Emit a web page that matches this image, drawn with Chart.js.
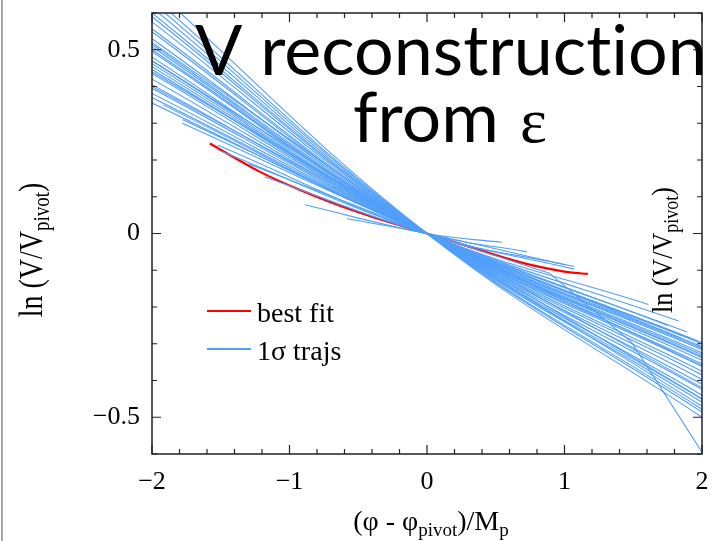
<!DOCTYPE html>
<html>
<head>
<meta charset="utf-8">
<script src="https://cdn.jsdelivr.net/npm/chart.js@4"></script>
<style>
  html, body { margin: 0; padding: 0; background: #ffffff; }
  #wrap { width: 712px; height: 541px; position: relative; }
</style>
</head>
<body>
<div id="wrap"><canvas id="potChart"></canvas></div>
<script>
// best fit reconstruction
const bestFitX = [-1.58, -1.2, -0.92, -0.5, 0, 0.3, 0.676, 0.9, 1.04, 1.17];
const bestFitY = [0.245, 0.165, 0.118, 0.058, 0, -0.035, -0.078, -0.097, -0.106, -0.11];

// 1 sigma trajectories: start point, pass through the pivot (0,0), end point
const trajLeftX  = [-2, -2, -2, -2, -2, -2, -2, -2, -2, -2, -2, -2, -2, -2, -2, -2, -2, -2, -2, -2,
                    -2, -2, -2, -2, -2, -2, -1.92, -1.78, -1.78, -1.52, -1.52, -1.18, -0.89, -0.58, -2, -2, -2, -2];
const trajLeftY  = [0.67, 0.645, 0.63, 0.615, 0.6, 0.59, 0.576, 0.557, 0.549, 0.53, 0.515, 0.508, 0.5, 0.495, 0.48, 0.47, 0.462, 0.454, 0.446, 0.435,
                    0.42, 0.405, 0.395, 0.381, 0.37, 0.355, 0.35, 0.30, 0.31, 0.227, 0.24, 0.154, 0.078, 0.04, 0.44, 0.47, 0.52, 0.40];
const trajRightX = [2, 2, 2, 2, 2, 2, 2, 2, 2, 2, 2, 2, 2, 2, 2, 2, 2, 2, 2, 2,
                    2, 2, 2, 1.95, 1.89, 1.83, 1.61, 1.75, 1.85, 1.07, 1.07, 0.727, 0.545, 1.0, 2, 2, 2, 2];
const trajRightY = [-0.5, -0.486, -0.478, -0.459, -0.451, -0.44, -0.424, -0.41, -0.397, -0.385, -0.375, -0.362, -0.355, -0.345, -0.338, -0.335, -0.33, -0.325, -0.316, -0.312,
                    -0.308, -0.3, -0.297, -0.29, -0.268, -0.238, -0.193, -0.25, -0.285, -0.097, -0.09, -0.05, -0.024, -0.085, -0.42, -0.45, -0.47, -0.36];

// one trajectory with a kink on the right
const kinkX = [-1.3, 0, 0.89, 1.49, 2];
const kinkY = [0.19, 0, -0.108, -0.297, -0.595];

const xTicks = [-2, -1, 0, 1, 2];
const yTicks = [-0.5, 0, 0.5];

const blue = '#519ffa';
const red = '#ff0000';

const datasets = [];
for (let i = 0; i < trajLeftX.length; i++) {
    datasets.push({
        label: '1σ trajs',
        data: [{x: trajLeftX[i], y: trajLeftY[i]}, {x: 0, y: 0}, {x: trajRightX[i], y: trajRightY[i]}],
        borderColor: blue,
        borderWidth: 1.1,
        pointRadius: 0,
        tension: 0.4
    });
}
datasets.push({
    label: '1σ trajs',
    data: kinkX.map((x, i) => ({x: x, y: kinkY[i]})),
    borderColor: blue,
    borderWidth: 1.1,
    pointRadius: 0,
    tension: 0
});
datasets.push({
    label: 'best fit',
    data: bestFitX.map((x, i) => ({x: x, y: bestFitY[i]})),
    borderColor: red,
    borderWidth: 2.2,
    pointRadius: 0,
    cubicInterpolationMode: 'monotone'
});

// draw text with subscripts, pieces = [[text, isSub], ...]
function drawSubText(ctx, pieces, x, y, size, align) {
    const subSize = Math.round(size * 0.68);
    let total = 0;
    pieces.forEach(p => {
        ctx.font = (p[1] ? subSize : size) + 'px "Liberation Serif"';
        total += ctx.measureText(p[0]).width;
    });
    let cx = align === 'center' ? x - total / 2 : x;
    ctx.textAlign = 'left';
    ctx.textBaseline = 'alphabetic';
    pieces.forEach(p => {
        ctx.font = (p[1] ? subSize : size) + 'px "Liberation Serif"';
        ctx.fillText(p[0], cx, p[1] ? y + size * 0.2 : y);
        cx += ctx.measureText(p[0]).width;
    });
}

const decor = {
    id: 'decor',
    afterDraw(chart) {
        const ctx = chart.ctx;
        const xs = chart.scales.x, ys = chart.scales.y;
        const a = chart.chartArea;
        ctx.save();

        // window edge line on the far left
        ctx.strokeStyle = '#888888';
        ctx.lineWidth = 1.5;
        ctx.beginPath();
        ctx.moveTo(2, 0);
        ctx.lineTo(2, 541);
        ctx.stroke();

        // frame
        ctx.strokeStyle = '#222222';
        ctx.lineWidth = 1.5;
        ctx.strokeRect(a.left, a.top, a.right - a.left, a.bottom - a.top);

        // inward ticks on all sides
        ctx.lineWidth = 1.2;
        ctx.beginPath();
        for (let v = -2; v <= 2.001; v += 0.2) {
            const major = Math.abs(v - Math.round(v)) < 1e-6;
            const len = major ? 9 : 5;
            const px = xs.getPixelForValue(v);
            ctx.moveTo(px, a.bottom); ctx.lineTo(px, a.bottom - len);
            ctx.moveTo(px, a.top); ctx.lineTo(px, a.top + len);
        }
        for (let v = -0.6; v <= 0.601; v += 0.1) {
            const major = Math.abs(v * 2 - Math.round(v * 2)) < 1e-6;
            const len = major ? 9 : 5;
            const py = ys.getPixelForValue(v);
            ctx.moveTo(a.left, py); ctx.lineTo(a.left + len, py);
            ctx.moveTo(a.right, py); ctx.lineTo(a.right - len, py);
        }
        ctx.stroke();

        // big title over the plot
        ctx.fillStyle = '#000000';
        ctx.font = '70px Lato';
        ctx.textAlign = 'left';
        ctx.textBaseline = 'alphabetic';
        ctx.fillText('V reconstruct\u200Cion', 195, 75);
        ctx.fillText('from', 353, 142);
        ctx.font = '64px "Liberation Serif"';
        ctx.fillText('ε', 520, 142);

        // axis titles
        ctx.fillStyle = '#000000';
        drawSubText(ctx, [['(φ - φ', false], ['pivot', true], [')/M', false], ['p', true]], 431, 530, 28, 'center');

        const yLabel = [['ln (V/V', false], ['pivot', true], [')', false]];
        ctx.save();
        ctx.translate(42, 250);
        ctx.rotate(-Math.PI / 2);
        ctx.scale(1, 1.2);
        drawSubText(ctx, yLabel, 0, 0, 28, 'center');
        ctx.restore();

        ctx.save();
        ctx.translate(672, 250);
        ctx.rotate(-Math.PI / 2);
        ctx.scale(1, 1.15);
        drawSubText(ctx, yLabel, 0, 0, 26, 'center');
        ctx.restore();

        // legend
        const items = [['best fit', red, 311], ['1σ trajs', blue, 349]];
        items.forEach(it => {
            ctx.strokeStyle = it[1];
            ctx.lineWidth = 2;
            ctx.beginPath();
            ctx.moveTo(207, it[2]);
            ctx.lineTo(251, it[2]);
            ctx.stroke();
            ctx.fillStyle = '#000000';
            ctx.font = '28px "Liberation Serif"';
            ctx.textAlign = 'left';
            ctx.fillText(it[0], 257, it[2] + 11);
        });
        ctx.restore();
    }
};

const minus = v => (v < 0 ? '\u2212' + Math.abs(v) : String(v));

new Chart(document.getElementById('potChart'), {
    type: 'line',
    data: { datasets: datasets },
    options: {
        responsive: true,
        maintainAspectRatio: false,
        animation: false,
        layout: { autoPadding: false, padding: { top: 13, right: 10, left: 0, bottom: 0 } },
        plugins: {
            legend: { display: false },
            tooltip: { enabled: false }
        },
        scales: {
            x: {
                type: 'linear',
                min: -2,
                max: 2,
                afterBuildTicks: s => { s.ticks = xTicks.map(v => ({value: v})); },
                afterFit: s => { s.height = 87; s.paddingLeft = 0; s.paddingRight = 0; },
                grid: { display: false, drawTicks: false },
                border: { display: false },
                ticks: {
                    color: '#000000',
                    padding: 13,
                    font: { family: 'Liberation Serif', size: 26 },
                    callback: v => minus(v)
                }
            },
            y: {
                type: 'linear',
                min: -0.6,
                max: 0.6,
                afterBuildTicks: s => { s.ticks = yTicks.map(v => ({value: v})); },
                afterFit: s => { s.width = 152; s.paddingTop = 0; s.paddingBottom = 0; },
                grid: { display: false, drawTicks: false },
                border: { display: false },
                ticks: {
                    color: '#000000',
                    padding: 12,
                    font: { family: 'Liberation Serif', size: 26 },
                    callback: v => minus(v)
                }
            }
        }
    },
    plugins: [decor]
});
</script>
</body>
</html>
